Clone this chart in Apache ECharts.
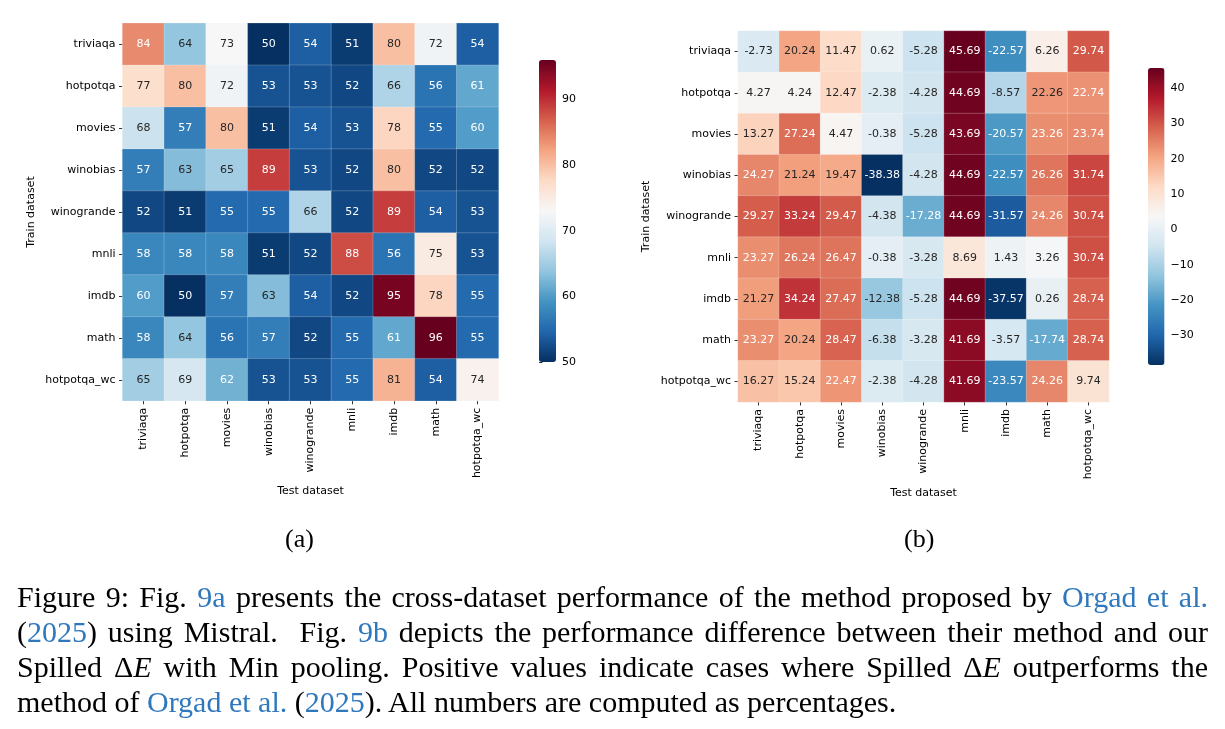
<!DOCTYPE html>
<html>
<head>
<meta charset="utf-8">
<script src="https://cdn.jsdelivr.net/npm/echarts@6/dist/echarts.min.js"></script>
<style>
  html, body { margin: 0; padding: 0; background: #fff; }
  #wrap { position: relative; width: 1225px; height: 729px; overflow: hidden; }
  #chart { position: absolute; left: 0; top: 0; width: 1225px; height: 729px; }
  #caption {
    position: absolute; left: 17px; top: 579px; width: 1191px;
    font-family: 'Liberation Serif', 'DejaVu Serif', serif;
    font-size: 30px; line-height: 35px; color: #000;
  }
  #caption div { text-align: justify; text-align-last: justify; }
  #caption div.last { text-align-last: left; }
  .ref { color: #2f78bd; }
</style>
</head>
<body>
<div id="wrap">
  <div id="chart"></div>
  <div id="caption">
    <div>Figure 9: Fig. <span class="ref">9a</span> presents the cross-dataset performance of the method proposed by <span class="ref">Orgad et al.</span></div>
    <div>(<span class="ref">2025</span>) using Mistral. &nbsp;Fig. <span class="ref">9b</span> depicts the performance difference between their method and our</div>
    <div>Spilled &Delta;<i>E</i> with Min pooling. Positive values indicate cases where Spilled &Delta;<i>E</i> outperforms the</div>
    <div class="last">method of <span class="ref">Orgad et al.</span> (<span class="ref">2025</span>). All numbers are computed as percentages.</div>
  </div>
</div>
<script>
// rows = train dataset, columns = test dataset
const trainSets = ['triviaqa', 'hotpotqa', 'movies', 'winobias', 'winogrande', 'mnli', 'imdb', 'math', 'hotpotqa_wc'];
const testSets = ['triviaqa', 'hotpotqa', 'movies', 'winobias', 'winogrande', 'mnli', 'imdb', 'math', 'hotpotqa_wc'];

// (a) accuracy of Orgad et al.
const accA = [
  [84, 64, 73, 50, 54, 51, 80, 72, 54],
  [77, 80, 72, 53, 53, 52, 66, 56, 61],
  [68, 57, 80, 51, 54, 53, 78, 55, 60],
  [57, 63, 65, 89, 53, 52, 80, 52, 52],
  [52, 51, 55, 55, 66, 52, 89, 54, 53],
  [58, 58, 58, 51, 52, 88, 56, 75, 53],
  [60, 50, 57, 63, 54, 52, 95, 78, 55],
  [58, 64, 56, 57, 52, 55, 61, 96, 55],
  [65, 69, 62, 53, 53, 55, 81, 54, 74]
];

// (b) difference, Spilled dE (min pooling) minus Orgad et al.
const diffB = [
  [-2.73, 20.24, 11.47, 0.62, -5.28, 45.69, -22.57, 6.26, 29.74],
  [4.27, 4.24, 12.47, -2.38, -4.28, 44.69, -8.57, 22.26, 22.74],
  [13.27, 27.24, 4.47, -0.38, -5.28, 43.69, -20.57, 23.26, 23.74],
  [24.27, 21.24, 19.47, -38.38, -4.28, 44.69, -22.57, 26.26, 31.74],
  [29.27, 33.24, 29.47, -4.38, -17.28, 44.69, -31.57, 24.26, 30.74],
  [23.27, 26.24, 26.47, -0.38, -3.28, 8.69, 1.43, 3.26, 30.74],
  [21.27, 34.24, 27.47, -12.38, -5.28, 44.69, -37.57, 0.26, 28.74],
  [23.27, 20.24, 28.47, -6.38, -3.28, 41.69, -3.57, -17.74, 28.74],
  [16.27, 15.24, 22.47, -2.38, -4.28, 41.69, -23.57, 24.26, 9.74]
];

const ticksA = [50, 60, 70, 80, 90];
const ticksB = [-30, -20, -10, 0, 10, 20, 30, 40];

// matplotlib RdBu_r
const rdbuR = ['#053061', '#2166ac', '#4393c3', '#92c5de', '#d1e5f0', '#f7f7f7',
               '#fddbc7', '#f4a582', '#d6604d', '#b2182b', '#67001f'];

const FONT = 'DejaVu Sans';

function flat(m) { return [].concat.apply([], m); }
const minA = Math.min.apply(null, flat(accA)), maxA = Math.max.apply(null, flat(accA));
const minB = Math.min.apply(null, flat(diffB)), maxB = Math.max.apply(null, flat(diffB));

function hexRgb(h) {
  return [parseInt(h.slice(1, 3), 16), parseInt(h.slice(3, 5), 16), parseInt(h.slice(5, 7), 16)];
}
function cmap(v, lo, hi) {
  let t = (v - lo) / (hi - lo);
  t = Math.max(0, Math.min(1, t));
  const p = t * (rdbuR.length - 1);
  const i = Math.min(Math.floor(p), rdbuR.length - 2);
  const f = p - i;
  const a = hexRgb(rdbuR[i]), b = hexRgb(rdbuR[i + 1]);
  return a.map((c, k) => c + (b[k] - c) * f);
}
// seaborn: dark text on light cells, white on dark ones
function textColor(rgb) {
  const lin = rgb.map(c => {
    c /= 255;
    return c <= 0.03928 ? c / 12.92 : Math.pow((c + 0.055) / 1.055, 2.4);
  });
  const lum = 0.2126 * lin[0] + 0.7152 * lin[1] + 0.0722 * lin[2];
  return lum > 0.408 ? '#262626' : '#ffffff';
}
function cells(mat, lo, hi) {
  const out = [];
  mat.forEach((row, r) => row.forEach((v, c) => {
    out.push({ value: [c, r, v], label: { color: textColor(cmap(v, lo, hi)) } });
  }));
  return out;
}

const tickStyle = { show: true, alignWithLabel: true, length: 3.5, lineStyle: { color: '#000', width: 0.8 } };
const nameStyle = { fontFamily: FONT, fontSize: 11, color: '#000' };

function xCat(gi, gap) {
  return {
    type: 'category', gridIndex: gi, data: testSets, position: 'bottom',
    name: 'Test dataset', nameLocation: 'middle', nameGap: gap, nameTextStyle: nameStyle,
    axisLine: { show: false }, axisTick: tickStyle,
    axisLabel: { rotate: 90, fontFamily: FONT, fontSize: 11, color: '#000', margin: 7, interval: 0 },
    splitLine: { show: false }, splitArea: { show: false }
  };
}
function yCat(gi, gap) {
  return {
    type: 'category', gridIndex: gi, data: trainSets, inverse: true,
    name: 'Train dataset', nameLocation: 'middle', nameGap: gap, nameTextStyle: nameStyle,
    axisLine: { show: false }, axisTick: tickStyle,
    axisLabel: { fontFamily: FONT, fontSize: 11, color: '#000', margin: 7, interval: 0 },
    splitLine: { show: false }, splitArea: { show: false }
  };
}
function barAxis(gi, lo, hi, ticks) {
  return {
    type: 'value', gridIndex: gi, position: 'right', min: lo, max: hi,
    axisLine: { show: false },
    axisTick: { show: true, length: 3.5, customValues: ticks, lineStyle: { color: '#000', width: 0.8 } },
    axisLabel: {
      customValues: ticks, fontFamily: FONT, fontSize: 11, color: '#000', margin: 6,
      formatter: v => String(v).replace('-', '\u2212')
    },
    splitLine: { show: false }
  };
}
function heat(xi, yi, mat, lo, hi, digits) {
  return {
    type: 'heatmap', xAxisIndex: xi, yAxisIndex: yi,
    data: cells(mat, lo, hi),
    itemStyle: { borderColor: 'rgba(255,255,255,0.25)', borderWidth: 0.8 },
    label: {
      show: true, fontFamily: FONT, fontSize: 11,
      formatter: p => p.value[2].toFixed(digits)
    },
    emphasis: { disabled: true }
  };
}

const chart = echarts.init(document.getElementById('chart'), null, { renderer: 'canvas' });
chart.setOption({
  animation: false,
  backgroundColor: '#fff',
  grid: [
    { left: 122.5, top: 23.3, width: 376, height: 377.5 },
    { left: 738, top: 31, width: 371, height: 371 },
    { left: 539, top: 60, width: 17, height: 302 },
    { left: 1148, top: 68, width: 16.5, height: 297 }
  ],
  xAxis: [
    xCat(0, 85), xCat(1, 84),
    { type: 'value', gridIndex: 2, show: false },
    { type: 'value', gridIndex: 3, show: false }
  ],
  yAxis: [
    yCat(0, 86), yCat(1, 86),
    barAxis(2, minA, maxA, ticksA),
    barAxis(3, minB, maxB, ticksB)
  ],
  visualMap: [
    {
      type: 'continuous', seriesIndex: 0, min: minA, max: maxA, calculable: false,
      orient: 'vertical', left: 539, top: 60, itemWidth: 17, itemHeight: 302,
      padding: 0, text: null, showLabel: false, hoverLink: false,
      inRange: { color: rdbuR }
    },
    {
      type: 'continuous', seriesIndex: 1, min: minB, max: maxB, calculable: false,
      orient: 'vertical', left: 1148, top: 68, itemWidth: 16.5, itemHeight: 297,
      padding: 0, text: null, showLabel: false, hoverLink: false,
      inRange: { color: rdbuR }
    }
  ],
  series: [
    heat(0, 0, accA, minA, maxA, 0),
    heat(1, 1, diffB, minB, maxB, 2)
  ],
  graphic: [
    { type: 'text', left: 285, top: 527, style: { text: '(a)', font: '26px "Liberation Serif"', fill: '#000' } },
    { type: 'text', left: 904, top: 527, style: { text: '(b)', font: '26px "Liberation Serif"', fill: '#000' } }
  ]
});
</script>
</body>
</html>
